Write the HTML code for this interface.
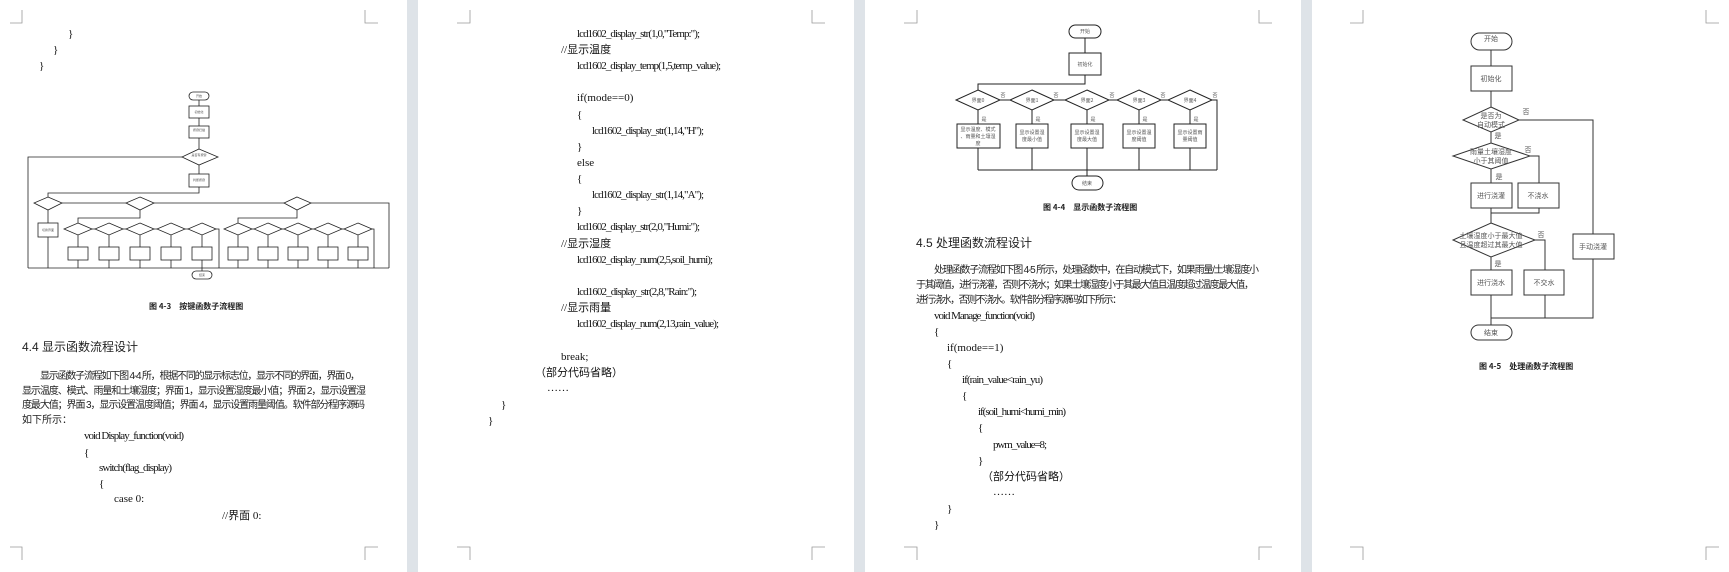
<!DOCTYPE html>
<html><head><meta charset="utf-8"><style>
html,body{margin:0;padding:0;background:#dee3e8;}
svg{display:block}
.c{font-family:"Liberation Sans","Noto Sans CJK SC",sans-serif;font-size:10px;fill:#222}
.s{font-family:"Liberation Serif","Noto Sans CJK SC",serif;font-size:11px;fill:#111}
.h{font-family:"Liberation Sans","Noto Sans CJK SC",sans-serif;font-size:12px;fill:#222}
.d1{font-family:"Noto Sans CJK SC",sans-serif;font-size:3px;fill:#555}
.d3{font-family:"Noto Sans CJK SC",sans-serif;font-size:5px;fill:#555}
.d4{font-family:"Noto Sans CJK SC",sans-serif;font-size:7px;fill:#555}
.cap{font-family:"Noto Sans CJK SC",sans-serif;font-size:8px;font-weight:bold;fill:#222}
</style></head><body>
<svg width="1729" height="572" viewBox="0 0 1729 572" xmlns="http://www.w3.org/2000/svg">
<rect width="1729" height="572" fill="#dee3e8"/>
<rect x="0" y="0" width="407" height="572" fill="#fff"/>
<rect x="418" y="0" width="436" height="572" fill="#fff"/>
<rect x="865" y="0" width="436" height="572" fill="#fff"/>
<rect x="1312" y="0" width="417" height="572" fill="#fff"/>
<g stroke="#999" stroke-width="0.8" fill="none">
<path d="M10,23H22V10 M365,10V23H378 M10,547H22V560 M365,560V547H378"/>
<path d="M457,23H470V10 M812,10V23H825 M457,547H470V560 M812,560V547H825"/>
<path d="M904,23H917V10 M1259,10V23H1272 M904,547H917V560 M1259,560V547H1272"/>
<path d="M1350,23H1363V10 M1706,10V23H1719 M1350,547H1363V560 M1706,560V547H1719"/>
</g>

<!-- PAGE 1 -->
<text class="s" x="68" y="37">}</text>
<text class="s" x="53" y="53">}</text>
<text class="s" x="39" y="69">}</text>
<g stroke="#222" stroke-width="0.8" fill="#fff">
<rect x="189" y="92" width="20" height="8" rx="4"/>
<rect x="189" y="106" width="20" height="12"/>
<rect x="189" y="126" width="20" height="12"/>
<polygon points="199,149 218,157 199,165 182,157"/>
<rect x="189" y="174" width="20" height="13"/>
<polygon points="48,197 62,203 48,210 34,203"/>
<polygon points="140,197 154,203 140,210 126,203"/>
<polygon points="297,197 311,203 297,210 284,203"/>
<rect x="38" y="223" width="20" height="14"/>
<polygon points="78,223 92,229 78,235 64,229"/><polygon points="109,223 123,229 109,235 95,229"/><polygon points="140,223 154,229 140,235 126,229"/><polygon points="171,223 185,229 171,235 157,229"/><polygon points="202,223 216,229 202,235 188,229"/>
<polygon points="238,223 252,229 238,235 224,229"/><polygon points="268,223 282,229 268,235 254,229"/><polygon points="298,223 312,229 298,235 284,229"/><polygon points="328,223 342,229 328,235 314,229"/><polygon points="358,223 372,229 358,235 344,229"/>
<rect x="68" y="247" width="20" height="13"/><rect x="99" y="247" width="20" height="13"/><rect x="130" y="247" width="20" height="13"/><rect x="161" y="247" width="20" height="13"/><rect x="192" y="247" width="20" height="13"/>
<rect x="228" y="247" width="20" height="13"/><rect x="258" y="247" width="20" height="13"/><rect x="288" y="247" width="20" height="13"/><rect x="318" y="247" width="20" height="13"/><rect x="348" y="247" width="20" height="13"/>
<rect x="192" y="271" width="20" height="8" rx="4"/>
</g>
<g stroke="#222" stroke-width="0.8" fill="none">
<path d="M199,100V106 M199,118V126 M199,138V149 M182,157H28V268 M199,165V174 M199,187V193H48V197"/>
<path d="M62,203H126 M154,203H284 M311,203H389V268 M48,210V223 M48,237V268"/>
<path d="M140,210V218H78V223 M92,229H95 M123,229H126 M154,229H157 M185,229H188 M216,229H219V268"/>
<path d="M297,210V218H238V223 M252,229H254 M282,229H284 M312,229H314 M342,229H344 M372,229H374V268"/>
<path d="M78,235V247 M109,235V247 M140,235V247 M171,235V247 M202,235V247 M78,260V268 M109,260V268 M140,260V268 M171,260V268 M202,260V268"/>
<path d="M238,235V247 M268,235V247 M298,235V247 M328,235V247 M358,235V247 M238,260V268 M268,260V268 M298,260V268 M328,260V268 M358,260V268"/>
<path d="M28,268H389 M202,268V271"/>
</g>
<text class="d1" x="199" y="97" text-anchor="middle">开始</text>
<text class="d1" x="199" y="113" text-anchor="middle">初始化</text>
<text class="d1" x="199" y="131" text-anchor="middle">按键扫描</text>
<text class="d1" x="199" y="156" text-anchor="middle">是否有按键</text>
<text class="d1" x="199" y="181" text-anchor="middle">判断按键</text>
<text class="d1" x="48" y="231" text-anchor="middle">切换界面</text>
<text class="d1" x="202" y="276" text-anchor="middle">结束</text>
<text class="cap" x="149" y="309">图 4-3　按键函数子流程图</text>
<text class="h" x="22" y="351">4.4 显示函数流程设计</text>
<text class="c" x="40" y="379" textLength="320">显示函数子流程如下图 4-4 所，根据不同的显示标志位，显示不同的界面，界面 0，</text>
<text class="c" x="22" y="394" textLength="344">显示温度、模式、雨量和土壤湿度；界面 1，显示设置湿度最小值；界面 2，显示设置湿</text>
<text class="c" x="22" y="408" textLength="343">度最大值；界面 3，显示设置温度阈值；界面 4，显示设置雨量阈值。软件部分程序源码</text>
<text class="c" x="22" y="423">如下所示：</text>
<text class="s" x="84" y="439" textLength="100">void Display_function(void)</text>
<text class="s" x="84" y="456">{</text>
<text class="s" x="99" y="471" textLength="73">switch(flag_display)</text>
<text class="s" x="99" y="487">{</text>
<text class="s" x="114" y="502">case 0:</text>
<text class="s" x="222" y="519">//界面 0:</text>

<!-- PAGE 2 -->
<g class="s">
<text x="577" y="37" textLength="123">lcd1602_display_str(1,0,"Temp:");</text>
<text x="561" y="53">//显示温度</text>
<text x="577" y="69" textLength="144">lcd1602_display_temp(1,5,temp_value);</text>
<text x="577" y="101">if(mode==0)</text>
<text x="577" y="118">{</text>
<text x="592" y="134" textLength="112">lcd1602_display_str(1,14,"H");</text>
<text x="577" y="150">}</text>
<text x="577" y="166">else</text>
<text x="577" y="182">{</text>
<text x="592" y="198" textLength="112">lcd1602_display_str(1,14,"A");</text>
<text x="577" y="214">}</text>
<text x="577" y="230" textLength="123">lcd1602_display_str(2,0,"Humi:");</text>
<text x="561" y="247">//显示湿度</text>
<text x="577" y="263" textLength="136">lcd1602_display_num(2,5,soil_humi);</text>
<text x="577" y="295" textLength="120">lcd1602_display_str(2,8,"Rain:");</text>
<text x="561" y="311">//显示雨量</text>
<text x="577" y="327" textLength="142">lcd1602_display_num(2,13,rain_value);</text>
<text x="561" y="360">break;</text>
<text x="535" y="376">（部分代码省略）</text>
<text x="547" y="391">……</text>
<text x="501" y="408">}</text>
<text x="488" y="424">}</text>
</g>

<!-- PAGE 3 -->
<g stroke="#222" stroke-width="1" fill="#fff">
<rect x="1069" y="25" width="32" height="13" rx="6.5"/>
<rect x="1069" y="53" width="32" height="22"/>
<polygon points="978,90 1000,100 978,110 956,100"/>
<polygon points="1032,90 1054,100 1032,110 1010,100"/>
<polygon points="1087,90 1109,100 1087,110 1065,100"/>
<polygon points="1139,90 1161,100 1139,110 1117,100"/>
<polygon points="1190,90 1212,100 1190,110 1168,100"/>
<rect x="957" y="124" width="43" height="24"/>
<rect x="1016" y="124" width="32" height="24"/>
<rect x="1071" y="124" width="32" height="24"/>
<rect x="1123" y="124" width="32" height="24"/>
<rect x="1174" y="124" width="32" height="24"/>
<rect x="1072" y="176" width="31" height="14" rx="7"/>
</g>
<g stroke="#222" stroke-width="1" fill="none">
<path d="M1085,38V53 M1085,75V84H978V90 M1000,100H1010 M1054,100H1065 M1109,100H1117 M1161,100H1168 M1212,100H1217V170"/>
<path d="M978,110V124 M1032,110V124 M1087,110V124 M1139,110V124 M1190,110V124"/>
<path d="M978,148V170 M1032,148V170 M1087,148V176 M1139,148V170 M1190,148V170 M978,170H1217"/>
</g>
<g class="d3" text-anchor="middle">
<text x="1085" y="33">开始</text><text x="1085" y="66">初始化</text>
<text x="978" y="102">界面0</text><text x="1032" y="102">界面1</text><text x="1087" y="102">界面2</text><text x="1139" y="102">界面3</text><text x="1190" y="102">界面4</text>
<text x="978" y="131">显示温度、模式</text><text x="978" y="138">、雨量和土壤湿</text><text x="978" y="145">度</text>
<text x="1032" y="134">显示设置湿</text><text x="1032" y="141">度最小值</text>
<text x="1087" y="134">显示设置湿</text><text x="1087" y="141">度最大值</text>
<text x="1139" y="134">显示设置温</text><text x="1139" y="141">度阈值</text>
<text x="1190" y="134">显示设置雨</text><text x="1190" y="141">量阈值</text>
<text x="1087" y="185">结束</text>
<text x="1003" y="97">否</text><text x="1056" y="97">否</text><text x="1112" y="97">否</text><text x="1163" y="97">否</text><text x="1215" y="97">否</text>
<text x="984" y="121">是</text><text x="1038" y="121">是</text><text x="1093" y="121">是</text><text x="1145" y="121">是</text><text x="1196" y="121">是</text>
</g>
<text class="cap" x="1043" y="210">图 4-4　显示函数子流程图</text>
<text class="h" x="916" y="247">4.5 处理函数流程设计</text>
<text class="c" x="934" y="273" textLength="325">处理函数子流程如下图 4-5 所示，处理函数中，在自动模式下，如果雨量/土壤湿度小</text>
<text class="c" x="916" y="288" textLength="338">于其阈值，进行浇灌，否则不浇水；如果土壤湿度小于其最大值且温度超过温度最大值，</text>
<text class="c" x="916" y="303" textLength="206">进行浇水，否则不浇水。软件部分程序源码如下所示：</text>
<g class="s">
<text x="934" y="319" textLength="101">void Manage_function(void)</text>
<text x="934" y="335">{</text>
<text x="947" y="351">if(mode==1)</text>
<text x="947" y="367">{</text>
<text x="962" y="383" textLength="81">if(rain_value&lt;rain_yu)</text>
<text x="962" y="399">{</text>
<text x="978" y="415" textLength="88">if(soil_humi&lt;humi_min)</text>
<text x="978" y="431">{</text>
<text x="993" y="448" textLength="54">pwm_value=8;</text>
<text x="978" y="464">}</text>
<text x="982" y="480">（部分代码省略）</text>
<text x="993" y="495">……</text>
<text x="947" y="512">}</text>
<text x="934" y="528">}</text>
</g>

<!-- PAGE 4 -->
<g stroke="#333" stroke-width="1" fill="#fff">
<rect x="1471" y="33" width="41" height="17" rx="8.5"/>
<rect x="1471" y="66" width="41" height="25"/>
<polygon points="1491,107 1519,120 1491,132 1463,120"/>
<polygon points="1491,143 1530,156 1491,169 1453,156"/>
<rect x="1471" y="183" width="41" height="25"/>
<rect x="1518" y="183" width="41" height="25"/>
<polygon points="1491,223 1535,240 1491,257 1453,240"/>
<rect x="1471" y="270" width="41" height="25"/>
<rect x="1524" y="270" width="40" height="25"/>
<rect x="1573" y="234" width="41" height="25"/>
<rect x="1471" y="325" width="41" height="15" rx="7.5"/>
</g>
<g stroke="#333" stroke-width="1" fill="none">
<path d="M1491,50V66 M1491,91V107 M1491,132V143 M1519,120H1593V234 M1491,169V183 M1530,156H1539V183"/>
<path d="M1491,208V223 M1539,208V213H1491 M1535,240H1545V270 M1491,257V270"/>
<path d="M1491,295V325 M1545,295V318 M1593,259V318H1491"/>
</g>
<g class="d4" text-anchor="middle">
<text x="1491" y="41">开始</text>
<text x="1491" y="81">初始化</text>
<text x="1491" y="118">是否为</text><text x="1491" y="127">自动模式</text>
<text x="1491" y="154">雨量土壤湿度</text><text x="1491" y="163">小于其阈值</text>
<text x="1491" y="198">进行浇灌</text><text x="1538" y="198">不浇水</text>
<text x="1491" y="238">土壤湿度小于最大值</text><text x="1491" y="247">且温度超过其最大值</text>
<text x="1491" y="285">进行浇水</text><text x="1544" y="285">不交水</text>
<text x="1593" y="249">手动浇灌</text>
<text x="1491" y="335">结束</text>
<text x="1526" y="114">否</text><text x="1528" y="152">否</text><text x="1541" y="237">否</text>
<text x="1498" y="138">是</text><text x="1499" y="179">是</text><text x="1498" y="266">是</text>
</g>
<text class="cap" x="1479" y="369">图 4-5　处理函数子流程图</text>
</svg>
</body></html>
